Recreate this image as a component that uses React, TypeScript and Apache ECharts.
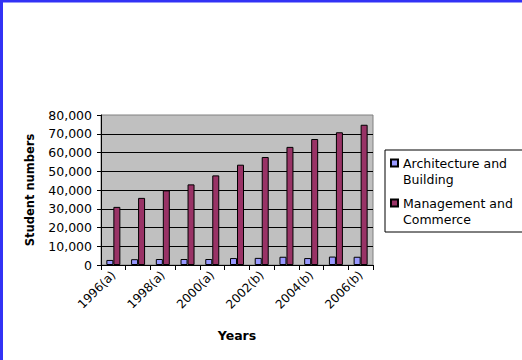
import React, { useEffect, useRef } from "react";
import * as echarts from "echarts";

const years = [
  "1996(a)", "1997(a)", "1998(a)", "1999(a)", "2000(a)", "2001(a)",
  "2002(b)", "2003(b)", "2004(b)", "2005(b)", "2006(b)",
];
const seriesNames = ["Architecture and Building", "Management and Commerce"];
const legendLabels = ["Architecture and\nBuilding", "Management and\nCommerce"];
const architecture = [2700, 3100, 3200, 3200, 3200, 3700, 3800, 4400, 3700, 4500, 4400];
const management = [31000, 35800, 39800, 43000, 47800, 53500, 57600, 63000, 67200, 70800, 74800];
const yMin = 0;
const yMax = 80000;
const yStep = 10000;

const FONT = "DejaVu Sans";

export default function App() {
  const ref = useRef<HTMLDivElement>(null);

  useEffect(() => {
    if (!ref.current) return;
    const chart = echarts.init(ref.current, undefined, { renderer: "svg" });
    chart.setOption({
      animation: false,
      backgroundColor: "#ffffff",
      graphic: [
        { type: "rect", shape: { x: 0, y: 0, width: 522, height: 2.5 }, style: { fill: "#3232f5" }, z: 100 },
        { type: "rect", shape: { x: 0, y: 0, width: 3, height: 360 }, style: { fill: "#3232f5" }, z: 100 },
      ],
      grid: {
        left: 101,
        top: 115,
        width: 272,
        height: 150,
        show: true,
        backgroundColor: "#c0c0c0",
        borderColor: "#808080",
        borderWidth: 1,
      },
      legend: {
        orient: "vertical",
        left: 385,
        top: 150,
        padding: [4, 10, 4, 5],
        itemGap: 6,
        itemWidth: 7,
        itemHeight: 32,
        icon: "path://M0,4.5h7v7h-7zM0,0M0,32",
        borderColor: "#000000",
        borderWidth: 1,
        backgroundColor: "#ffffff",
        data: seriesNames,
        formatter: (name: string) => legendLabels[seriesNames.indexOf(name)],
        textStyle: { fontFamily: FONT, fontSize: 12.5, lineHeight: 16, color: "#000000" },
      },
      xAxis: {
        type: "category",
        data: years,
        boundaryGap: true,
        axisLine: { show: true, lineStyle: { color: "#000000", width: 1 } },
        axisTick: { show: true, interval: 0, alignWithLabel: false, length: 5, lineStyle: { color: "#000000" } },
        axisLabel: { interval: 1, rotate: 45, margin: 8, fontFamily: FONT, fontSize: 12, color: "#000000" },
        splitLine: { show: false },
        name: "Years",
        nameLocation: "middle",
        nameGap: 64,
        nameTextStyle: { fontFamily: FONT, fontSize: 12.5, fontWeight: "bold", color: "#000000" },
      },
      yAxis: {
        type: "value",
        min: yMin,
        max: yMax,
        interval: yStep,
        axisLine: { show: true, lineStyle: { color: "#000000", width: 1 } },
        axisTick: { show: true, length: 4, lineStyle: { color: "#000000" } },
        splitLine: { show: true, showMaxLine: false, lineStyle: { color: "#000000", width: 1 } },
        axisLabel: {
          margin: 9,
          fontFamily: FONT,
          fontSize: 12.5,
          color: "#000000",
          formatter: (v: number) => v.toLocaleString("en-US"),
        },
        name: "Student numbers",
        nameLocation: "middle",
        nameGap: 65,
        nameTextStyle: { fontFamily: FONT, fontSize: 11.5, fontWeight: "bold", color: "#000000" },
      },
      series: [
        {
          name: seriesNames[0],
          type: "bar",
          data: architecture,
          barWidth: 7,
          barGap: "0%",
          itemStyle: { color: "#9999ff", borderColor: "#000000", borderWidth: 1 },
        },
        {
          name: seriesNames[1],
          type: "bar",
          data: management,
          barWidth: 7,
          barGap: "0%",
          itemStyle: { color: "#993366", borderColor: "#000000", borderWidth: 1 },
        },
      ],
    });
    return () => chart.dispose();
  }, []);

  return (
    <div
      ref={ref}
      style={{ position: "fixed", left: 0, top: 0, width: 522, height: 360, background: "#fff" }}
    />
  );
}
